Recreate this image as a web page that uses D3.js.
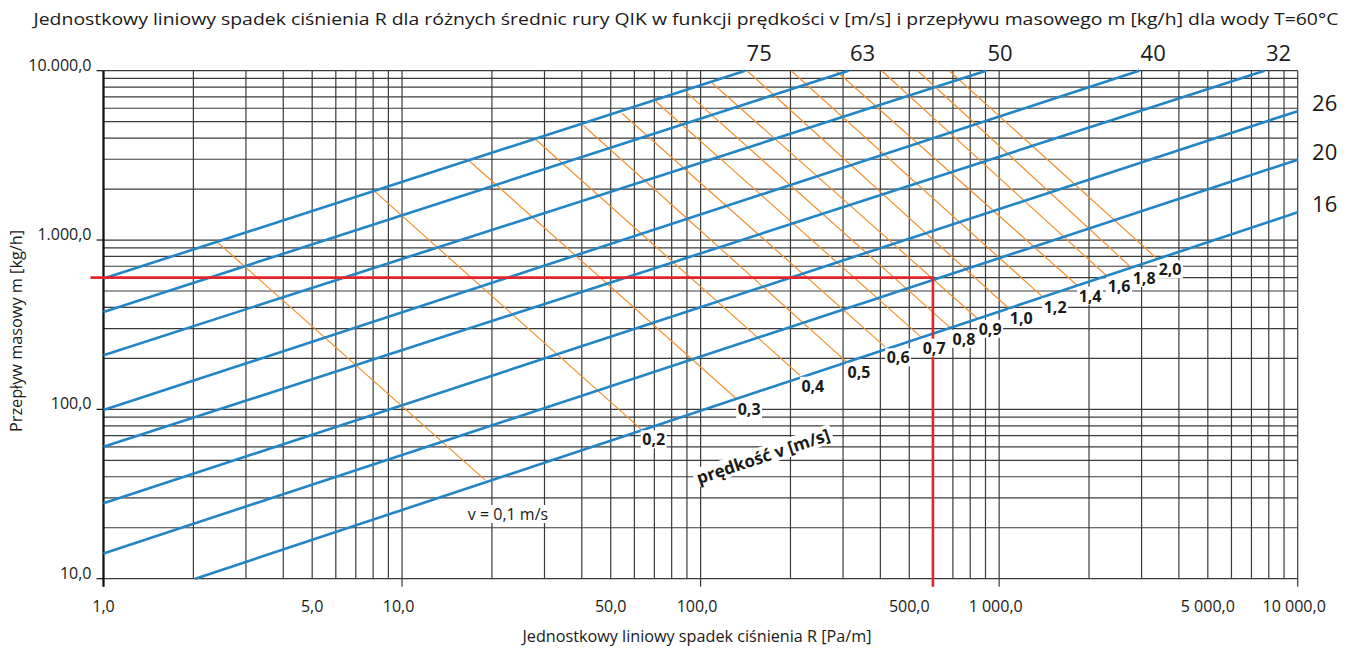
<!DOCTYPE html>
<html><head><meta charset="utf-8">
<script src="https://cdn.jsdelivr.net/npm/d3@7"></script>
<style>
body{margin:0;background:#fff}
svg{display:block}
text{font-family:"Open Sans","Noto Sans",sans-serif;fill:#1a1a1a}
</style>
</head><body>
<svg id="c" width="1352" height="648"></svg>
<script>
// ---------- data ----------
const pipeNames  = ["75","63","50","40","32","26","20","16"];
const pipeStart  = [[1,592],[1,376],[1,209],[1,99],[1,60.1],[1,27.9],[1,14.1],[2.03,10]];
const pipeEnd    = [[141,10000],[313,10000],[904,10000],[2944,10000],[7740,10000],[10000,5770],[10000,2980],[10000,1457]];
const pipeLabelSide = ["top","top","top","top","top","right","right","right"];

const velLabels = ["0,1","0,2","0,3","0,4","0,5","0,6","0,7","0,8","0,9","1,0","1,2","1,4","1,6","1,8","2,0"];
const velStart  = [[2.40,975],[8.06,1950],[16.8,2932],[28.1,3910],[40.5,4750],[54.5,5610],[70.8,6580],[89.4,7470],[109,8490],
                   [143,10000],[201,10000],[284,10000],[404,10000],[533,10000],[680,10000]];
const velEnd    = [[19.0,38.2],[63.0,76.7],[131.5,115.9],[215,159],[307,192],[415,234],[548,267],[690,301],[844,345],
                   [1072,398],[1393,465],[1824,541],[2281,619],[2767,690],[3381,775]];

const xTickValues = [1,5,10,50,100,500,1000,5000,10000];
const xTickLabels = ["1,0","5,0","10,0","50,0","100,0","500,0","1 000,0","5 000,0","10 000,0"];
const xMajor = [1,10,100,1000,10000];
const yTickValues = [10,100,1000,10000];
const yTickLabels = ["10,0","100,0","1.000,0","10.000,0"];

const exampleR = 600, exampleM = 600;

const titleText = "Jednostkowy liniowy spadek ciśnienia R dla różnych średnic rury QIK w funkcji prędkości v [m/s] i przepływu masowego m [kg/h] dla wody T=60°C";
const xTitle = "Jednostkowy liniowy spadek ciśnienia R [Pa/m]";
const yTitle = "Przepływ masowy m [kg/h]";
const velTitle = "prędkość v [m/s]";
const v01Label = "v = 0,1 m/s";

// ---------- scales ----------
const svg = d3.select("#c");
const x = d3.scaleLog().domain([1,10000]).range([103.5,1297.7]);
const y = d3.scaleLog().domain([10,10000]).range([578.7,70.7]);
const [x0,x1] = x.range(), [y0,y1] = y.range();

const BLUE = "#2286c6", ORANGE = "#f39030", RED = "#e3242b", GRID = "#3a3a3a";

// grid
const g = svg.append("g");
g.selectAll("line.v").data(x.ticks()).join("line")
  .attr("x1",d=>x(d)).attr("x2",d=>x(d)).attr("y1",y1).attr("y2",y0)
  .attr("stroke",GRID).attr("stroke-width",1.2);
g.selectAll("line.h").data(y.ticks()).join("line")
  .attr("x1",x0).attr("x2",x1).attr("y1",d=>y(d)).attr("y2",d=>y(d))
  .attr("stroke",GRID).attr("stroke-width",1.2);

// bottom ticks at decades
g.selectAll("line.bt").data(xMajor).join("line")
  .attr("x1",d=>x(d)).attr("x2",d=>x(d)).attr("y1",y0).attr("y2",y0+8)
  .attr("stroke",GRID).attr("stroke-width",1.2);
// left ticks
g.selectAll("line.lt").data(yTickValues).join("line")
  .attr("x1",x0-7).attr("x2",x0).attr("y1",d=>y(d)).attr("y2",d=>y(d))
  .attr("stroke","#111").attr("stroke-width",1.2);
// left axis
g.append("line").attr("x1",x0).attr("x2",x0).attr("y1",y1).attr("y2",y0+8)
  .attr("stroke","#111").attr("stroke-width",2.2);

// velocity lines
const line = d3.line().x(d=>x(d[0])).y(d=>y(d[1]));
svg.append("g").selectAll("path").data(velLabels.map((v,i)=>[velStart[i],velEnd[i]])).join("path")
  .attr("d",line).attr("fill","none").attr("stroke",ORANGE).attr("stroke-width",1.2);

// pipe lines
svg.append("g").selectAll("path").data(pipeNames.map((p,i)=>[pipeStart[i],pipeEnd[i]])).join("path")
  .attr("d",line).attr("fill","none").attr("stroke",BLUE).attr("stroke-width",2.6);

// red example lines
svg.append("line").attr("x1",x0-13).attr("x2",x(exampleR)).attr("y1",y(exampleM)).attr("y2",y(exampleM))
  .attr("stroke",RED).attr("stroke-width",2.6);
svg.append("line").attr("x1",x(exampleR)).attr("x2",x(exampleR)).attr("y1",y(exampleM)-1.3).attr("y2",y0+8)
  .attr("stroke",RED).attr("stroke-width",2.6);

// helper: white background behind text
function knock(sel, pad){
  sel.each(function(){
    const b = this.getBBox();
    const tr = this.getAttribute("transform");
    const r = d3.select(this.parentNode).insert("rect", ()=>this)
      .attr("x",b.x-pad).attr("y",b.y+2).attr("width",b.width+2*pad).attr("height",b.height-4)
      .attr("fill","#fff");
    if(tr) r.attr("transform",tr);
  });
}

// velocity labels
const vl = svg.append("g");
const vt = vl.selectAll("text").data(velLabels.slice(1)).join("text")
  .attr("x",(d,i)=>x(velEnd[i+1][0])+13).attr("y",(d,i)=>y(velEnd[i+1][1])+10.5)
  .attr("text-anchor","middle").attr("dominant-baseline","central")
  .attr("font-size",16).attr("font-weight",700).text(d=>d);
knock(vt,1.5);

const vtitle = vl.append("text").attr("transform","translate(763,456) rotate(-18.5)")
  .attr("text-anchor","middle").attr("dominant-baseline","central")
  .attr("font-size",17).attr("font-weight",700).text(velTitle);
knock(vtitle,3);

const v01 = vl.append("text").attr("x",508).attr("y",520).attr("text-anchor","middle")
  .attr("font-size",16).text(v01Label);
knock(v01,3);

// pipe labels
svg.append("g").selectAll("text").data(pipeNames).join("text")
  .attr("x",(d,i)=>pipeLabelSide[i]==="top" ? x(pipeEnd[i][0])+14 : x1+27)
  .attr("y",(d,i)=>pipeLabelSide[i]==="top" ? y1-10 : y(pipeEnd[i][1]))
  .attr("text-anchor","middle").attr("font-size",22).text(d=>d);

// axis tick labels
svg.append("g").selectAll("text").data(xTickValues).join("text")
  .attr("x",d=>x(d)-(xMajor.includes(d)&&d>1?3.5:0)).attr("y",612)
  .attr("text-anchor","middle").attr("font-size",16).text((d,i)=>xTickLabels[i]);
svg.append("g").selectAll("text").data(yTickValues).join("text")
  .attr("x",x0-12).attr("y",d=>y(d)).attr("text-anchor","end")
  .attr("font-size",16).text((d,i)=>yTickLabels[i]);

// titles
svg.append("text").attr("x",686).attr("y",25).attr("text-anchor","middle")
  .attr("font-size",16.5).attr("textLength",1305).attr("lengthAdjust","spacingAndGlyphs").text(titleText);
svg.append("text").attr("x",697).attr("y",642).attr("text-anchor","middle")
  .attr("font-size",16).attr("textLength",349).attr("lengthAdjust","spacingAndGlyphs").text(xTitle);
svg.append("text").attr("transform","translate(22,331) rotate(-90)").attr("text-anchor","middle")
  .attr("font-size",16).attr("textLength",202).attr("lengthAdjust","spacingAndGlyphs").text(yTitle);
</script>
</body></html>
